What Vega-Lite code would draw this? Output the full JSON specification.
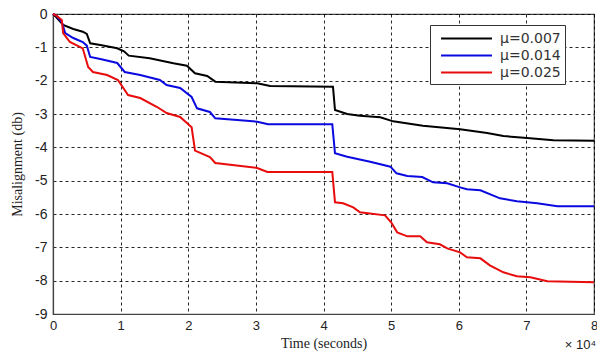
{
  "$schema": "https://vega.github.io/schema/vega-lite/v6.json",
  "width": 541,
  "height": 300,
  "autosize": {"type": "none"},
  "padding": {"left": 53, "top": 14, "right": 3, "bottom": 42},
  "background": "white",
  "config": {
    "view": {"stroke": "#444", "strokeWidth": 1.2},
    "axis": {
      "labelFont": "Liberation Sans", "labelFontSize": 13, "labelColor": "#222", "labelOverlap": false, "labelBound": false, "labelFlush": false,
      "titleFont": "Liberation Serif", "titleFontSize": 14, "titleFontWeight": "normal", "titleColor": "#222",
      "grid": true, "gridColor": "#000", "gridDash": [3, 3], "gridOpacity": 0.85, "gridWidth": 1,
      "domainColor": "#444", "domainWidth": 1.2, "ticks": false
    }
  },
  "datasets": {
    "curves": [
      {"t": 0, "m": 0, "s": "μ=0.007"}, {"t": 0.05, "m": -0.1, "s": "μ=0.007"}, {"t": 0.15, "m": -0.33, "s": "μ=0.007"}, {"t": 0.3, "m": -0.45, "s": "μ=0.007"}, {"t": 0.44, "m": -0.53, "s": "μ=0.007"}, {"t": 0.5, "m": -0.6, "s": "μ=0.007"}, {"t": 0.55, "m": -0.88, "s": "μ=0.007"}, {"t": 0.7, "m": -0.93, "s": "μ=0.007"}, {"t": 0.95, "m": -1.03, "s": "μ=0.007"}, {"t": 1.05, "m": -1.12, "s": "μ=0.007"}, {"t": 1.12, "m": -1.25, "s": "μ=0.007"}, {"t": 1.43, "m": -1.33, "s": "μ=0.007"}, {"t": 1.78, "m": -1.48, "s": "μ=0.007"}, {"t": 1.98, "m": -1.55, "s": "μ=0.007"}, {"t": 2.1, "m": -1.78, "s": "μ=0.007"}, {"t": 2.28, "m": -1.86, "s": "μ=0.007"}, {"t": 2.4, "m": -2.03, "s": "μ=0.007"}, {"t": 3.02, "m": -2.08, "s": "μ=0.007"}, {"t": 3.21, "m": -2.16, "s": "μ=0.007"}, {"t": 4.14, "m": -2.18, "s": "μ=0.007"}, {"t": 4.17, "m": -2.88, "s": "μ=0.007"}, {"t": 4.35, "m": -3.0, "s": "μ=0.007"}, {"t": 4.54, "m": -3.05, "s": "μ=0.007"}, {"t": 4.84, "m": -3.1, "s": "μ=0.007"}, {"t": 5.03, "m": -3.22, "s": "μ=0.007"}, {"t": 5.47, "m": -3.35, "s": "μ=0.007"}, {"t": 6.02, "m": -3.46, "s": "μ=0.007"}, {"t": 6.42, "m": -3.57, "s": "μ=0.007"}, {"t": 6.66, "m": -3.66, "s": "μ=0.007"}, {"t": 7.01, "m": -3.72, "s": "μ=0.007"}, {"t": 7.4, "m": -3.79, "s": "μ=0.007"}, {"t": 8, "m": -3.8, "s": "μ=0.007"},
      {"t": 0, "m": 0, "s": "μ=0.014"}, {"t": 0.05, "m": -0.05, "s": "μ=0.014"}, {"t": 0.13, "m": -0.24, "s": "μ=0.014"}, {"t": 0.18, "m": -0.57, "s": "μ=0.014"}, {"t": 0.3, "m": -0.72, "s": "μ=0.014"}, {"t": 0.44, "m": -0.84, "s": "μ=0.014"}, {"t": 0.5, "m": -0.95, "s": "μ=0.014"}, {"t": 0.55, "m": -1.29, "s": "μ=0.014"}, {"t": 0.7, "m": -1.35, "s": "μ=0.014"}, {"t": 0.95, "m": -1.47, "s": "μ=0.014"}, {"t": 1.06, "m": -1.74, "s": "μ=0.014"}, {"t": 1.29, "m": -1.83, "s": "μ=0.014"}, {"t": 1.58, "m": -1.98, "s": "μ=0.014"}, {"t": 1.68, "m": -2.13, "s": "μ=0.014"}, {"t": 1.88, "m": -2.22, "s": "μ=0.014"}, {"t": 2.05, "m": -2.49, "s": "μ=0.014"}, {"t": 2.13, "m": -2.83, "s": "μ=0.014"}, {"t": 2.32, "m": -2.94, "s": "μ=0.014"}, {"t": 2.4, "m": -3.13, "s": "μ=0.014"}, {"t": 3.02, "m": -3.23, "s": "μ=0.014"}, {"t": 3.18, "m": -3.31, "s": "μ=0.014"}, {"t": 4.13, "m": -3.31, "s": "μ=0.014"}, {"t": 4.17, "m": -4.18, "s": "μ=0.014"}, {"t": 4.35, "m": -4.28, "s": "μ=0.014"}, {"t": 4.69, "m": -4.43, "s": "μ=0.014"}, {"t": 4.99, "m": -4.58, "s": "μ=0.014"}, {"t": 5.08, "m": -4.78, "s": "μ=0.014"}, {"t": 5.24, "m": -4.86, "s": "μ=0.014"}, {"t": 5.46, "m": -4.89, "s": "μ=0.014"}, {"t": 5.62, "m": -5.05, "s": "μ=0.014"}, {"t": 5.83, "m": -5.08, "s": "μ=0.014"}, {"t": 6.02, "m": -5.2, "s": "μ=0.014"}, {"t": 6.12, "m": -5.26, "s": "μ=0.014"}, {"t": 6.32, "m": -5.29, "s": "μ=0.014"}, {"t": 6.61, "m": -5.53, "s": "μ=0.014"}, {"t": 6.86, "m": -5.62, "s": "μ=0.014"}, {"t": 7.16, "m": -5.68, "s": "μ=0.014"}, {"t": 7.46, "m": -5.77, "s": "μ=0.014"}, {"t": 8, "m": -5.77, "s": "μ=0.014"},
      {"t": 0, "m": 0, "s": "μ=0.025"}, {"t": 0.05, "m": -0.05, "s": "μ=0.025"}, {"t": 0.13, "m": -0.18, "s": "μ=0.025"}, {"t": 0.15, "m": -0.57, "s": "μ=0.025"}, {"t": 0.25, "m": -0.84, "s": "μ=0.025"}, {"t": 0.44, "m": -1.03, "s": "μ=0.025"}, {"t": 0.52, "m": -1.59, "s": "μ=0.025"}, {"t": 0.59, "m": -1.74, "s": "μ=0.025"}, {"t": 0.8, "m": -1.83, "s": "μ=0.025"}, {"t": 0.96, "m": -1.98, "s": "μ=0.025"}, {"t": 1.11, "m": -2.43, "s": "μ=0.025"}, {"t": 1.29, "m": -2.52, "s": "μ=0.025"}, {"t": 1.54, "m": -2.79, "s": "μ=0.025"}, {"t": 1.68, "m": -2.97, "s": "μ=0.025"}, {"t": 1.88, "m": -3.09, "s": "μ=0.025"}, {"t": 2.05, "m": -3.4, "s": "μ=0.025"}, {"t": 2.1, "m": -4.1, "s": "μ=0.025"}, {"t": 2.32, "m": -4.29, "s": "μ=0.025"}, {"t": 2.4, "m": -4.47, "s": "μ=0.025"}, {"t": 3.02, "m": -4.62, "s": "μ=0.025"}, {"t": 3.17, "m": -4.74, "s": "μ=0.025"}, {"t": 4.13, "m": -4.74, "s": "μ=0.025"}, {"t": 4.17, "m": -5.65, "s": "μ=0.025"}, {"t": 4.29, "m": -5.68, "s": "μ=0.025"}, {"t": 4.44, "m": -5.8, "s": "μ=0.025"}, {"t": 4.54, "m": -5.95, "s": "μ=0.025"}, {"t": 4.91, "m": -6.04, "s": "μ=0.025"}, {"t": 5.0, "m": -6.25, "s": "μ=0.025"}, {"t": 5.09, "m": -6.55, "s": "μ=0.025"}, {"t": 5.24, "m": -6.67, "s": "μ=0.025"}, {"t": 5.43, "m": -6.67, "s": "μ=0.025"}, {"t": 5.53, "m": -6.85, "s": "μ=0.025"}, {"t": 5.72, "m": -6.91, "s": "μ=0.025"}, {"t": 5.83, "m": -7.03, "s": "μ=0.025"}, {"t": 6.02, "m": -7.15, "s": "μ=0.025"}, {"t": 6.12, "m": -7.3, "s": "μ=0.025"}, {"t": 6.32, "m": -7.33, "s": "μ=0.025"}, {"t": 6.46, "m": -7.54, "s": "μ=0.025"}, {"t": 6.66, "m": -7.75, "s": "μ=0.025"}, {"t": 6.86, "m": -7.87, "s": "μ=0.025"}, {"t": 7.06, "m": -7.9, "s": "μ=0.025"}, {"t": 7.31, "m": -8.02, "s": "μ=0.025"}, {"t": 8, "m": -8.05, "s": "μ=0.025"}
    ]
  },
  "layer": [
    {
      "data": {"name": "curves"},
      "mark": {"type": "line", "strokeWidth": 2, "interpolate": "linear"},
      "encoding": {
        "x": {
          "field": "t", "type": "quantitative",
          "scale": {"domain": [0, 8], "nice": false},
          "axis": {"values": [0, 1, 2, 3, 4, 5, 6, 7, 8], "tickCount": 20, "title": "Time (seconds)", "labelExpr": "'' + datum.value", "labelOverlap": false, "labelPadding": 5, "titlePadding": 4}
        },
        "y": {
          "field": "m", "type": "quantitative",
          "scale": {"domain": [-9, 0], "nice": false},
          "axis": {"values": [-9, -8, -7, -6, -5, -4, -3, -2, -1, 0], "tickCount": 20, "title": "Misalignment (db)", "labelExpr": "'' + datum.value", "labelOverlap": false, "labelFontSize": 14, "labelPadding": 6, "titlePadding": 10}
        },
        "color": {
          "field": "s", "type": "nominal",
          "scale": {"domain": ["μ=0.007", "μ=0.014", "μ=0.025"], "range": ["#000000", "#0a0ae0", "#e80c0c"]},
          "legend": {
            "title": null, "orient": "none", "legendX": 377, "legendY": 11,
            "symbolType": "M-0.3,0H5.9", "symbolSize": 270, "symbolStrokeWidth": 2,
            "labelFont": "DejaVu Sans", "labelFontSize": 14, "labelColor": "#333",
            "strokeColor": "#333", "fillColor": "white", "padding": 4, "rowPadding": 0,
            "labelOffset": 47
          }
        }
      }
    },
    {
      "data": {"values": [{}]},
      "mark": {"type": "text", "align": "right", "baseline": "middle", "dy": 31, "dx": 2, "font": "Liberation Sans", "fontSize": 13, "color": "#222"},
      "encoding": {
        "x": {"datum": 8, "type": "quantitative"},
        "y": {"datum": -9, "type": "quantitative"},
        "text": {"value": "× 10⁴"}
      }
    }
  ]
}
